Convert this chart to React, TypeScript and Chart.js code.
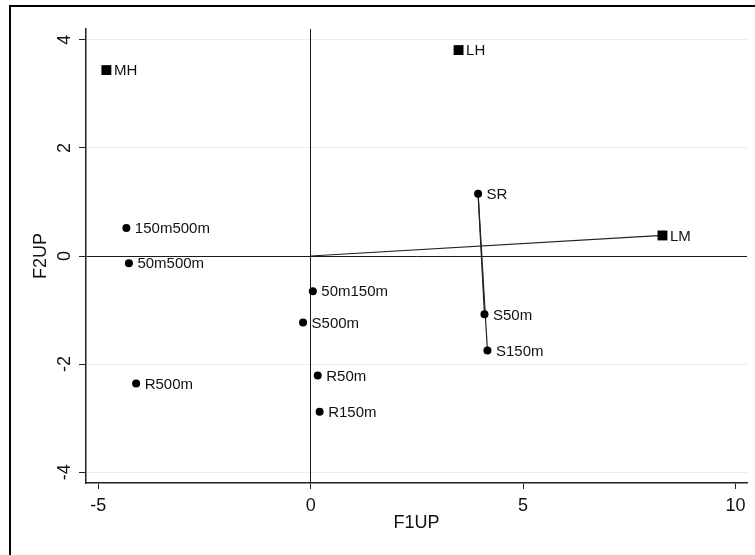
import React, { useEffect, useRef } from "react";
import { Chart, registerables } from "chart.js";

Chart.register(...registerables);

// ---- data ----
const squareLabels = ["MH", "LH", "LM"];
const squareX = [-4.81, 3.48, 8.28];
const squareY = [3.44, 3.81, 0.38];

const circleLabels = ["150m500m", "50m500m", "50m150m", "S500m", "R500m", "R50m", "R150m", "SR", "S50m", "S150m"];
const circleX = [-4.34, -4.28, 0.05, -0.18, -4.11, 0.165, 0.21, 3.94, 4.09, 4.16];
const circleY = [0.52, -0.135, -0.65, -1.23, -2.36, -2.21, -2.88, 1.15, -1.08, -1.75];

const segments: [string, string][] = [
  ["origin", "LM"],
  ["SR", "S150m"],
  ["SR", "S50m"],
];

const xTicks = [-5, 0, 5, 10];
const yTicks = [-4, -2, 0, 2, 4];
const xRange = [-5.29, 10.27];
const yRange = [-4.2, 4.2];
const xTitle = "F1UP";
const yTitle = "F2UP";

const FONT = '"Liberation Sans", Arial, Helvetica, sans-serif';

function lookup(name: string) {
  if (name === "origin") return { x: 0, y: 0 };
  let i = squareLabels.indexOf(name);
  if (i >= 0) return { x: squareX[i], y: squareY[i] };
  i = circleLabels.indexOf(name);
  return { x: circleX[i], y: circleY[i] };
}

const labelPlugin = {
  id: "pointLabels",
  afterDatasetsDraw(chart: any) {
    const ctx = chart.ctx;
    ctx.save();
    ctx.font = `15px ${FONT}`;
    ctx.fillStyle = "#111";
    ctx.textBaseline = "middle";
    ctx.textAlign = "left";
    chart.data.datasets.forEach((ds: any, i: number) => {
      if (!ds.pointLabels) return;
      const meta = chart.getDatasetMeta(i);
      meta.data.forEach((el: any, j: number) => {
        ctx.fillText(ds.pointLabels[j], el.x + ds.labelOffset, el.y + 1);
      });
    });
    ctx.restore();
  },
};

export default function App() {
  const ref = useRef<HTMLCanvasElement>(null);

  useEffect(() => {
    if (!ref.current) return;
    Chart.defaults.font.family = FONT;
    const datasets: any[] = [
      {
        label: "squares",
        data: squareX.map((x, i) => ({ x, y: squareY[i] })),
        pointStyle: "rect",
        pointRadius: 7,
        backgroundColor: "#000",
        borderColor: "#000",
        borderWidth: 0,
        showLine: false,
        pointLabels: squareLabels,
        labelOffset: 7.5,
      },
      {
        label: "circles",
        data: circleX.map((x, i) => ({ x, y: circleY[i] })),
        pointStyle: "circle",
        pointRadius: 4,
        backgroundColor: "#000",
        borderColor: "#000",
        borderWidth: 0,
        showLine: false,
        pointLabels: circleLabels,
        labelOffset: 8.5,
      },
      ...segments.map(([a, b]) => ({
        label: a + "-" + b,
        data: [lookup(a), lookup(b)],
        showLine: true,
        borderColor: "#222",
        borderWidth: 1.2,
        pointRadius: 0,
        fill: false,
      })),
    ];

    const chart = new Chart(ref.current, {
      type: "scatter",
      data: { datasets },
      plugins: [labelPlugin],
      options: {
        animation: false,
        responsive: false,
        devicePixelRatio: 1,
        layout: { padding: { left: 0, right: 8, top: 29, bottom: 0 } },
        plugins: { legend: { display: false }, tooltip: { enabled: false } },
        scales: {
          x: {
            type: "linear",
            min: xRange[0],
            max: xRange[1],
            afterBuildTicks: (s: any) => {
              s.ticks = xTicks.map((v) => ({ value: v }));
            },
            afterFit: (s: any) => {
              s.height = 72;
            },
            ticks: { font: { size: 18 }, color: "#111", padding: 6 },
            grid: {
              color: (c: any) => (c.tick && c.tick.value === 0 ? "#1a1a1a" : "rgba(0,0,0,0)"),
              lineWidth: 1,
              tickLength: 6,
              tickColor: "#222",
              z: -1,
            },
            border: { display: true, color: "#222", width: 1.5 },
            title: { display: true, text: xTitle, font: { size: 18 }, color: "#111", padding: { top: 0, bottom: 21 } },
          },
          y: {
            type: "linear",
            min: yRange[0],
            max: yRange[1],
            afterBuildTicks: (s: any) => {
              s.ticks = yTicks.map((v) => ({ value: v }));
            },
            afterFit: (s: any) => {
              s.width = 86;
            },
            ticks: { font: { size: 18 }, color: "#111", padding: 6, minRotation: 90, maxRotation: 90, crossAlign: "center" },
            grid: {
              color: (c: any) => (c.tick && c.tick.value === 0 ? "#1a1a1a" : "#e6eeee"),
              lineWidth: 1,
              tickLength: 7,
              tickColor: "#222",
              z: -2,
            },
            border: { display: true, color: "#222", width: 1.5 },
            title: { display: true, text: yTitle, font: { size: 18 }, color: "#111", padding: { top: 30, bottom: 0 } },
          },
        },
      } as any,
    });
    return () => chart.destroy();
  }, []);

  return (
    <div style={{ position: "fixed", left: 0, top: 0, width: 755, height: 555, overflow: "hidden", background: "#fff" }}>
      <div
        style={{
          position: "absolute",
          left: 9,
          top: 5,
          width: 800,
          height: 600,
          border: "2px solid #000",
          boxSizing: "border-box",
        }}
      />
      <canvas ref={ref} width={755} height={555} style={{ position: "absolute", left: 0, top: 0 }} />
    </div>
  );
}
